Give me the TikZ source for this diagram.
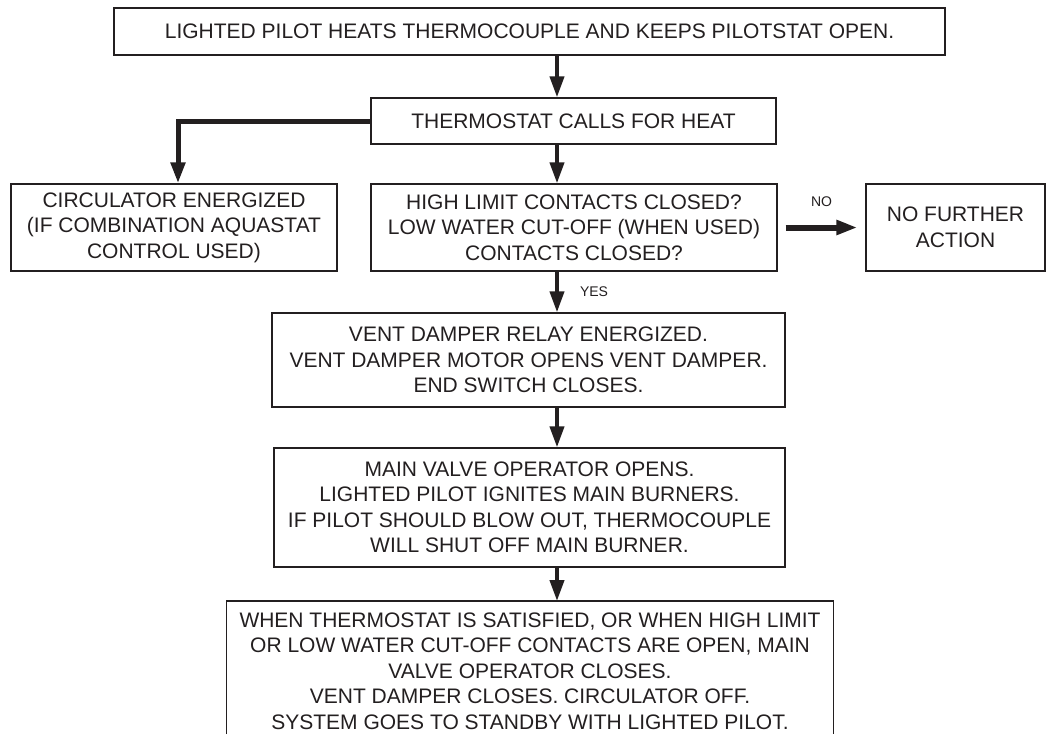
\documentclass[tikz,border=0pt]{standalone}
\usepackage{fontspec}
\setmainfont{Liberation Sans}
\usepackage{xcolor}
\usepackage{tikz}
\usetikzlibrary{arrows.meta,positioning,calc}
\definecolor{ink}{RGB}{35,31,32}
\newcommand{\boxfont}{\fontsize{21}{25.5}\selectfont}
\newcommand{\tagfont}{\fontsize{14}{16}\selectfont}

\begin{document}
\begin{tikzpicture}[
    x=1pt, y=-1pt,
    box/.style={rectangle, draw=ink, line width=1.3pt, text=ink, align=center, font=\boxfont, inner sep=0pt},
    frame/.style={draw=ink, line width=1.3pt},
    flow/.style={ink, line width=4pt, -{Triangle[length=21pt, width=14pt]}},
    tag/.style={font=\tagfont, text=ink, inner sep=0pt}
]
    \path[fill=white, use as bounding box] (0,0) rectangle (1046,734);

    \coordinate (spine) at (557,0);
    \coordinate (circin) at (178,0);
    \coordinate (floor) at (0,734);

    \node[box, minimum width=831pt, minimum height=47pt] (pilot) at (529.5,31.5) {LIGHTED PILOT HEATS THERMOCOUPLE AND KEEPS PILOTSTAT OPEN.};
    \node[box, minimum width=405pt, minimum height=46pt] (thermo) at (573.5,121) {THERMOSTAT CALLS FOR HEAT};
    \node[box, minimum width=326pt, minimum height=87pt] (circ) at (174,227.5) {CIRCULATOR ENERGIZED\\(IF COMBINATION AQUASTAT\\CONTROL USED)};
    \node[box, minimum width=406pt, minimum height=87pt] (limit) at (574,227.5) {HIGH LIMIT CONTACTS CLOSED?\\LOW WATER CUT-OFF (WHEN USED)\\CONTACTS CLOSED?};
    \node[box, minimum width=179pt, minimum height=87pt] (nofurther) at (955.5,227.5) {NO FURTHER\\ACTION};
    \node[box, minimum width=513pt, minimum height=94pt] (vent) at (528.5,360) {VENT DAMPER RELAY ENERGIZED.\\VENT DAMPER MOTOR OPENS VENT DAMPER.\\END SWITCH CLOSES.};
    \node[box, minimum width=511pt, minimum height=119pt] (mainvalve) at (529.5,507.5) {MAIN VALVE OPERATOR OPENS.\\LIGHTED PILOT IGNITES MAIN BURNERS.\\IF PILOT SHOULD BLOW OUT, THERMOCOUPLE\\WILL SHUT OFF MAIN BURNER.};
    \node[box, draw=none, minimum width=606pt, minimum height=139pt, anchor=north] (standby) at (530,601) {WHEN THERMOSTAT IS SATISFIED, OR WHEN HIGH LIMIT\\OR LOW WATER CUT-OFF CONTACTS ARE OPEN, MAIN\\VALVE OPERATOR CLOSES.\\VENT DAMPER CLOSES. CIRCULATOR OFF.\\SYSTEM GOES TO STANDBY WITH LIGHTED PILOT.};
    % last box runs off the bottom of the page
    \draw[frame] (standby.north west |- floor) -- (standby.north west) -- (standby.north east) -- (standby.north east |- floor);

    \draw[flow] (pilot.south -| spine) -- (thermo.north -| spine);
    \draw[flow, line width=5pt] (thermo.west) -| (circ.north -| circin);
    \draw[flow] (thermo.south -| spine) -- (limit.north -| spine);
    \draw[flow, line width=6pt, shorten <=8pt, shorten >=8pt] (limit.east) -- node[tag, above=18pt] {NO} (nofurther.west);
    \draw[flow] (limit.south -| spine) -- node[tag, right=21pt] {YES} (vent.north -| spine);
    \draw[flow] (vent.south -| spine) -- (mainvalve.north -| spine);
    \draw[flow] (mainvalve.south -| spine) -- (standby.north -| spine);
\end{tikzpicture}
\end{document}
